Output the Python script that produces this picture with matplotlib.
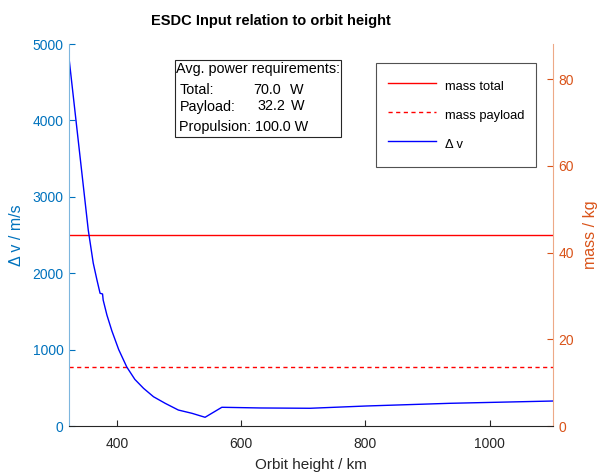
import numpy as np
import matplotlib.pyplot as plt
from matplotlib.patches import Rectangle

plt.rcParams["font.family"] = ["Liberation Sans", "DejaVu Sans"]

# orbit height [km] vs delta-v [m/s]
height_km = [323, 354, 362, 368, 373, 377, 378, 384, 392, 403, 416, 429, 443,
             459, 478, 499, 521, 542, 569, 631, 711, 802, 936, 1102]
delta_v = [4817, 2565, 2133, 1911, 1737, 1728, 1649, 1453, 1245, 1000, 772, 610, 493,
           383, 296, 209, 166, 114, 245, 236, 232, 262, 297, 327]

mass_total = 44.05
mass_payload = 13.6

power_labels = ["Total:", "Payload:", "Propulsion:"]
power_values = [70.0, 32.2, 100.0]

c_left = "#0072BD"
c_right = "#D95319"
W, H = 600, 473

fig = plt.figure(figsize=(W / 100, H / 100), dpi=100)
ax = fig.add_axes([69 / W, 1 - 426 / H, (553 - 69) / W, (426 - 44) / H])
ax2 = ax.twinx()
ax.set_zorder(ax2.get_zorder() + 1)
ax.patch.set_visible(False)

l_tot = ax2.axhline(mass_total, color="red", lw=1.0, label="mass total")
l_pay = ax2.axhline(mass_payload, color="red", lw=1.0, ls=(0, (3, 2.5)), label="mass payload")
l_dv, = ax.plot(height_km, delta_v, color="blue", lw=1.0, label="\u0394 v")

ax.set_xlim(height_km[0], height_km[-1])
ax.set_ylim(0, 5000)
ax2.set_ylim(0, 2 * mass_total)
ax.set_xticks([400, 600, 800, 1000])
ax.set_yticks(np.arange(0, 5001, 1000))
ax2.set_yticks([0, 20, 40, 60, 80])

for a in (ax, ax2):
    a.spines["top"].set_visible(False)
ax.spines["right"].set_visible(False)
ax2.spines["left"].set_visible(False)
ax2.spines["bottom"].set_visible(False)
ax.spines["left"].set_color("#7DB6DE")
ax2.spines["right"].set_color("#EDA987")
ax.spines["bottom"].set_color("#262626")

ax.tick_params(axis="x", direction="in", length=4, labelsize=10, colors="#262626", pad=8)
ax.tick_params(axis="y", direction="in", length=4, labelsize=10, colors=c_left, pad=4)
ax2.tick_params(axis="y", direction="in", length=4, labelsize=10, colors=c_right, pad=4)

ax.set_xlabel("Orbit height / km", fontsize=11, color="#262626", labelpad=5)
ax.set_ylabel("\u0394 v / m/s", fontsize=11.5, color=c_left, labelpad=6)
ax2.set_ylabel("mass / kg", fontsize=11.5, color=c_right, labelpad=6)

fig.text(271 / W, 1 - 21 / H, "ESDC Input relation to orbit height",
         ha="center", va="center", fontsize=10.5, fontweight="bold")

# power box
fs_box = 10.4
fig.patches.append(Rectangle((175 / W, 1 - 137 / H), (341 - 175) / W, (137 - 60) / H,
                             transform=fig.transFigure, fill=False, ec="#262626", lw=0.8))
fig.text(175.5 / W, 1 - 68.5 / H, "Avg. power requirements:", fontsize=fs_box, va="center")
rows_y = [89.5, 106.5, 127]
val_x = [253.3, 257.3, None]
unit_x = [290, 290.7, None]
for lab, val, yy, vx, ux in zip(power_labels, power_values, rows_y, val_x, unit_x):
    if vx is None:
        fig.text(179 / W, 1 - yy / H, f"{lab} {val:.1f} W", fontsize=fs_box, va="center")
    else:
        fig.text(180 / W, 1 - yy / H, lab, fontsize=fs_box, va="center")
        fig.text(vx / W, 1 - yy / H, f"{val:.1f}", fontsize=fs_box, va="center")
        fig.text(ux / W, 1 - yy / H, "W", fontsize=fs_box, va="center")

leg = ax.legend(handles=[l_tot, l_pay, l_dv], loc="upper left",
                bbox_to_anchor=(375.7 / W, 1 - 63.3 / H), bbox_transform=fig.transFigure,
                fontsize=9.3, frameon=True, fancybox=False, handlelength=3.7,
                handleheight=2.12, labelspacing=0.64, borderpad=0.93,
                handletextpad=0.7, borderaxespad=0)
leg.get_frame().set_edgecolor("#262626")
leg.get_frame().set_linewidth(0.8)

fig.savefig("out.png", dpi=100)
